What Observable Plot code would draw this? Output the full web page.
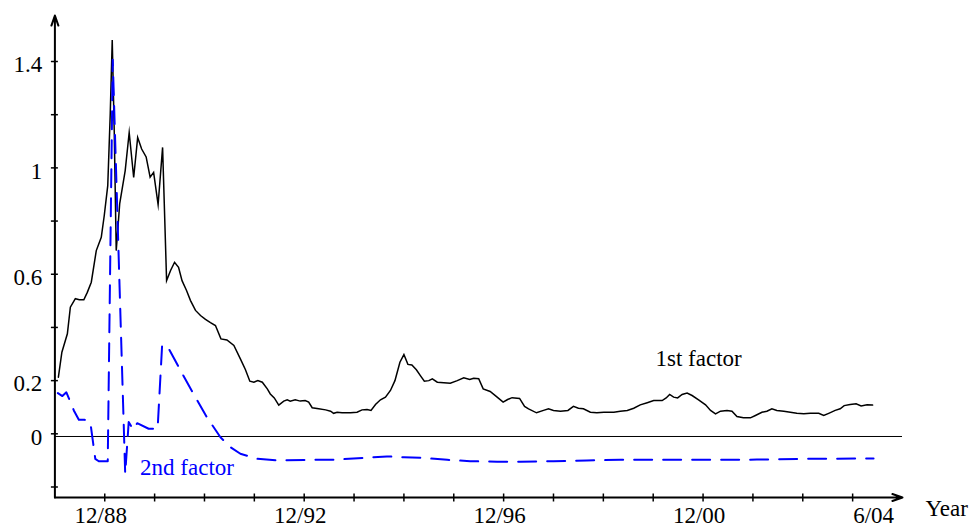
<!DOCTYPE html>
<html>
<head>
<meta charset="utf-8">
<script src="https://cdn.jsdelivr.net/npm/d3@7"></script>
<script src="https://cdn.jsdelivr.net/npm/@observablehq/plot@0.6"></script>
<style>
  html, body { margin: 0; padding: 0; background: #fff; }
  #chart svg { display: block; }
  #chart svg, #chart svg text { font-family: 'Liberation Serif', 'DejaVu Serif', serif !important; }
</style>
</head>
<body>
<div id="chart"></div>
<script>
// ---- Data (decimal year, value) ----
const factor1Time = [1988.07,1988.14,1988.25,1988.31,1988.41,1988.49,1988.58,1988.65,1988.73,1988.83,1988.93,1988.99,1989.06,1989.11,1989.15,1989.19,1989.23,1989.30,1989.41,1989.49,1989.58,1989.66,1989.74,1989.83,1989.91,1989.98,1990.07,1990.16,1990.24,1990.32,1990.40,1990.48,1990.55,1990.64,1990.72,1990.82,1990.92,1991.02,1991.12,1991.22,1991.33,1991.45,1991.59,1991.72,1991.82,1991.91,1991.99,1992.07,1992.16,1992.26,1992.32,1992.40,1992.49,1992.59,1992.66,1992.72,1992.82,1992.92,1993.02,1993.09,1993.16,1993.29,1993.43,1993.53,1993.59,1993.66,1993.76,1993.93,1994.06,1994.16,1994.26,1994.34,1994.43,1994.53,1994.63,1994.73,1994.82,1994.92,1995.00,1995.08,1995.16,1995.25,1995.33,1995.41,1995.50,1995.57,1995.67,1995.80,1995.93,1996.07,1996.20,1996.32,1996.40,1996.50,1996.59,1996.73,1996.87,1996.99,1997.08,1997.17,1997.32,1997.42,1997.50,1997.66,1997.80,1997.90,1998.00,1998.14,1998.29,1998.40,1998.50,1998.60,1998.74,1998.87,1999.01,1999.21,1999.34,1999.48,1999.61,1999.74,1999.88,2000.01,2000.18,2000.26,2000.33,2000.41,2000.49,2000.58,2000.68,2000.78,2000.91,2001.05,2001.15,2001.25,2001.35,2001.48,2001.58,2001.68,2001.81,2001.95,2002.05,2002.18,2002.28,2002.38,2002.48,2002.62,2002.75,2002.88,2003.02,2003.15,2003.32,2003.42,2003.52,2003.65,2003.75,2003.83,2003.95,2004.07,2004.17,2004.29,2004.40];
const factor1Value = [0.213,0.307,0.376,0.476,0.508,0.504,0.504,0.532,0.570,0.689,0.739,0.821,0.933,1.203,1.481,1.140,0.689,0.866,0.990,1.133,0.964,1.114,1.071,1.041,0.965,0.983,0.862,1.077,0.576,0.614,0.645,0.626,0.576,0.539,0.501,0.464,0.445,0.430,0.418,0.407,0.357,0.353,0.332,0.282,0.242,0.198,0.194,0.200,0.194,0.169,0.150,0.135,0.108,0.123,0.128,0.123,0.128,0.123,0.125,0.119,0.098,0.094,0.090,0.085,0.077,0.081,0.079,0.079,0.081,0.090,0.091,0.088,0.110,0.128,0.138,0.163,0.200,0.269,0.298,0.261,0.259,0.241,0.219,0.198,0.200,0.207,0.194,0.192,0.190,0.200,0.211,0.204,0.209,0.207,0.169,0.159,0.138,0.119,0.129,0.136,0.133,0.103,0.094,0.079,0.088,0.094,0.088,0.085,0.088,0.103,0.096,0.094,0.081,0.079,0.081,0.081,0.085,0.088,0.096,0.109,0.117,0.125,0.125,0.135,0.148,0.138,0.135,0.148,0.153,0.144,0.128,0.109,0.088,0.075,0.085,0.088,0.085,0.065,0.060,0.060,0.069,0.081,0.085,0.094,0.088,0.085,0.081,0.077,0.075,0.077,0.077,0.069,0.077,0.088,0.094,0.106,0.110,0.113,0.105,0.109,0.108];

const factor2Time = [1988.06,1988.15,1988.23,1988.38,1988.48,1988.59,1988.71,1988.81,1988.88,1989.06,1989.16,1989.41,1989.48,1989.57,1989.65,1989.88,1990.06,1990.15,1990.25,1990.52,1990.78,1991.05,1991.32,1991.52,1991.72,1992.06,1992.46,1993.06,1993.53,1993.99,1994.39,1994.66,1995.00,1995.33,1995.87,1996.33,1996.87,1997.34,1998.00,1998.67,1999.34,1999.94,2001.08,2002.08,2003.09,2004.42];
const factor2Value = [0.153,0.142,0.156,0.088,0.053,0.053,0.044,-0.094,-0.103,-0.103,1.407,-0.150,0.044,0.016,0.040,0.019,0.019,0.332,0.332,0.238,0.150,0.062,-0.013,-0.050,-0.075,-0.094,-0.100,-0.098,-0.098,-0.093,-0.088,-0.085,-0.088,-0.090,-0.098,-0.103,-0.105,-0.105,-0.103,-0.100,-0.098,-0.098,-0.098,-0.097,-0.094,-0.093];

// axes
const xDomain = [1988, 2005];
const yDomain = [-0.2395, 1.573];
const xTickValues = [1989,1990,1991,1992,1993,1994,1995,1996,1997,1998,1999,2000,2001,2002,2003,2004];
const xLabelValues = [1989, 1993, 1997, 2001, 2004.5];
const xLabelTexts = ["12/88", "12/92", "12/96", "12/00", "6/04"];
const yTickValues = [-0.2,0,0.2,0.4,0.6,0.8,1,1.2,1.4];
const yLabelValues = [0, 0.2, 0.6, 1, 1.4];
const yLabelTexts = ["0", "0.2", "0.6", "1", "1.4"];
const zeroLine = [-0.0101];

const seriesLabelTexts = ["1st factor", "2nd factor"];
const seriesLabelX = [2000.91, 1990.65];
const seriesLabelY = [0.281, -0.129];
const seriesLabelColors = ["black", "#0000ff"];
const xAxisTitle = "Year";

// ---- build tables ----
const f1 = factor1Time.map((t, i) => ({t, v: factor1Value[i]}));
const f2 = factor2Time.map((t, i) => ({t, v: factor2Value[i]}));
const labels = seriesLabelTexts.map((s, i) => ({s, x: seriesLabelX[i], y: seriesLabelY[i], c: seriesLabelColors[i]}));
const axisArrows = [
  {x1: xDomain[0], y1: yDomain[0], x2: xDomain[1], y2: yDomain[0]},
  {x1: xDomain[0], y1: yDomain[0], x2: xDomain[0], y2: yDomain[1]}
];

const FONT = "'Liberation Serif', 'DejaVu Serif', serif";
const FS = 23;

const chart = Plot.plot({
  width: 974,
  height: 528,
  marginLeft: 54.4,
  marginRight: 72,
  marginTop: 15,
  marginBottom: 31,
  x: {domain: xDomain, type: "linear"},
  y: {domain: yDomain, type: "linear"},
  style: {fontFamily: FONT, fontSize: FS + "px", background: "white", color: "black", overflow: "visible"},
  marks: [
    Plot.ruleY(zeroLine, {stroke: "black", strokeWidth: 1}),
    Plot.line(f1, {x: "t", y: "v", stroke: "black", strokeWidth: 1.5, strokeLinejoin: "miter", strokeMiterlimit: 10}),
    Plot.line(f2, {x: "t", y: "v", stroke: "#0000ff", strokeWidth: 2, strokeDasharray: "18,11"}),
    Plot.arrow(axisArrows, {x1: "x1", y1: "y1", x2: "x2", y2: "y2", stroke: "black", strokeWidth: 2, headLength: 8, headAngle: 38}),
    Plot.axisX({ticks: xTickValues, tickSize: 8, dy: -3.5, tickFormat: () => "", strokeWidth: 1.5}),
    Plot.axisX({ticks: xLabelValues, tickSize: 0, tickPadding: 9.4, dx: -4, fontSize: FS,
      tickFormat: d => xLabelTexts[xLabelValues.indexOf(d)]}),
    Plot.axisY({ticks: yTickValues, tickSize: 7, dx: 3.5, tickFormat: () => "", strokeWidth: 1.5}),
    Plot.axisY({ticks: yLabelValues, tickSize: 0, tickPadding: 12.7, dy: 3.5, fontSize: FS,
      tickFormat: d => yLabelTexts[yLabelValues.indexOf(d)]}),
    Plot.text(labels, {x: "x", y: "y", text: "s", fill: "c", fontSize: FS}),
    Plot.text([xAxisTitle], {frameAnchor: "bottom-right", dx: 23, dy: 18, textAnchor: "start", fontSize: FS})
  ]
});
document.getElementById("chart").appendChild(chart);
</script>
</body>
</html>
